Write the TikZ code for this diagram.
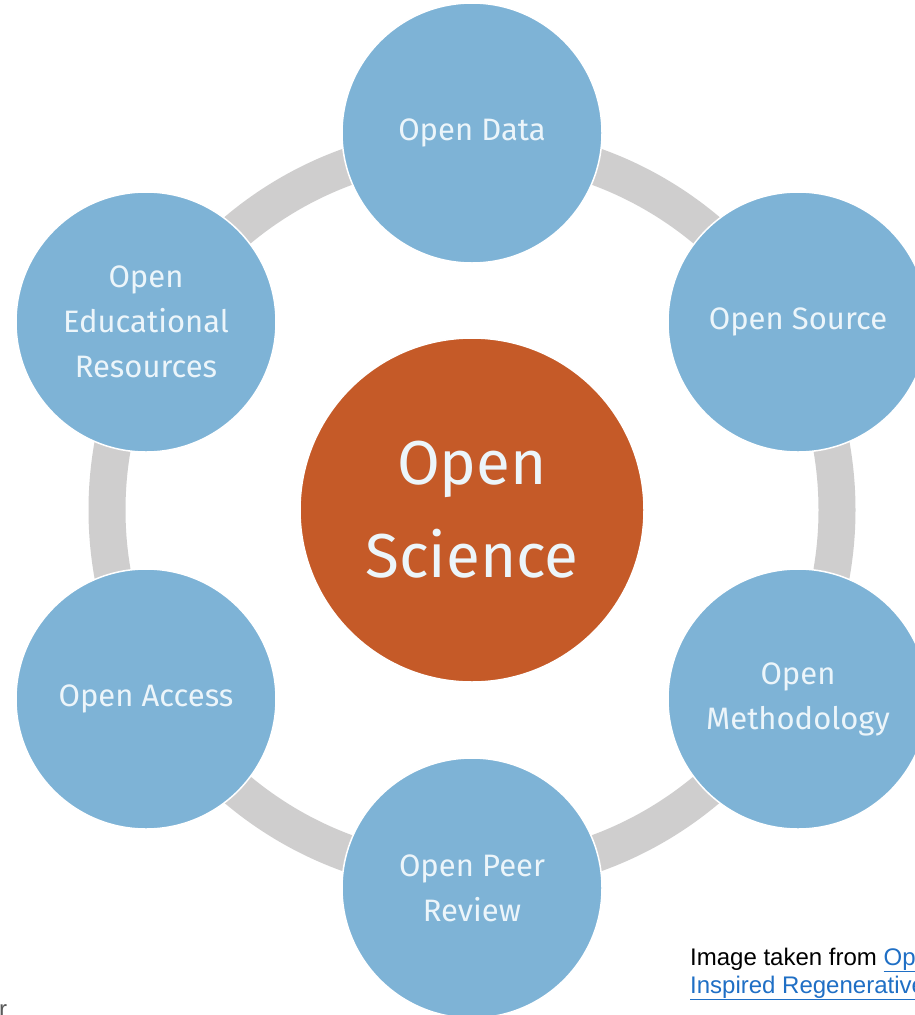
\documentclass[tikz,border=0pt]{standalone}
\usepackage{fontspec}
\setmainfont{Fira Sans}
\newfontfamily\arialfont{Liberation Sans}
\definecolor{ringgray}{RGB}{207,206,206}
\definecolor{bubbleblue}{RGB}{126,179,214}
\definecolor{coreorange}{RGB}{197,90,40}
\definecolor{lighttext}{RGB}{236,245,250}
\definecolor{linkblue}{RGB}{31,111,197}
\definecolor{capgray}{RGB}{90,90,90}
\tikzset{
  bubble/.style={circle, fill=bubbleblue, draw=white, line width=1.5pt,
    minimum size=260pt, inner sep=0pt, text=lighttext, align=center,
    font=\fontsize{31}{45}\selectfont},
  core/.style={circle, fill=coreorange, draw=white, line width=1.5pt,
    minimum size=344pt, inner sep=0pt, text=lighttext, align=center,
    font=\fontsize{62}{93}\selectfont},
  captext/.style={anchor=base west, inner sep=0pt, font=\arialfont\fontsize{24}{28}\selectfont}
}
\begin{document}
\begin{tikzpicture}[x=1pt,y=-1pt]
\useasboundingbox (0,0) rectangle (915,1015);
\clip (0,0) rectangle (915,1015);
\fill[white] (0,0) rectangle (915,1015);
\coordinate (hub) at (472,510);
\draw[ringgray, line width=37pt] (hub) circle[radius=365pt];
\node[core] (sci) at (hub) {Open\\Science};
\node[bubble] (data) at (472,133) {Open Data};
\node[bubble] (source) at (798,322) {Open Source};
\node[bubble] (method) at (798,699) {Open\\Methodology};
\node[bubble] (peer) at (472,888) {Open Peer\\Review};
\node[bubble] (access) at (146,699) {Open Access};
\node[bubble] (oer) at (146,322) {Open\\Educational\\Resources};
\node[captext] (cap1) at (690,965) {Image taken from \textcolor{linkblue}{\underline{Op}}};
\node[captext, text=linkblue] (cap2) at (690,993) {\underline{Inspired Regenerative}};
\node[captext, text=capgray] (rr) at (-1,1017) {r};
\end{tikzpicture}
\end{document}
